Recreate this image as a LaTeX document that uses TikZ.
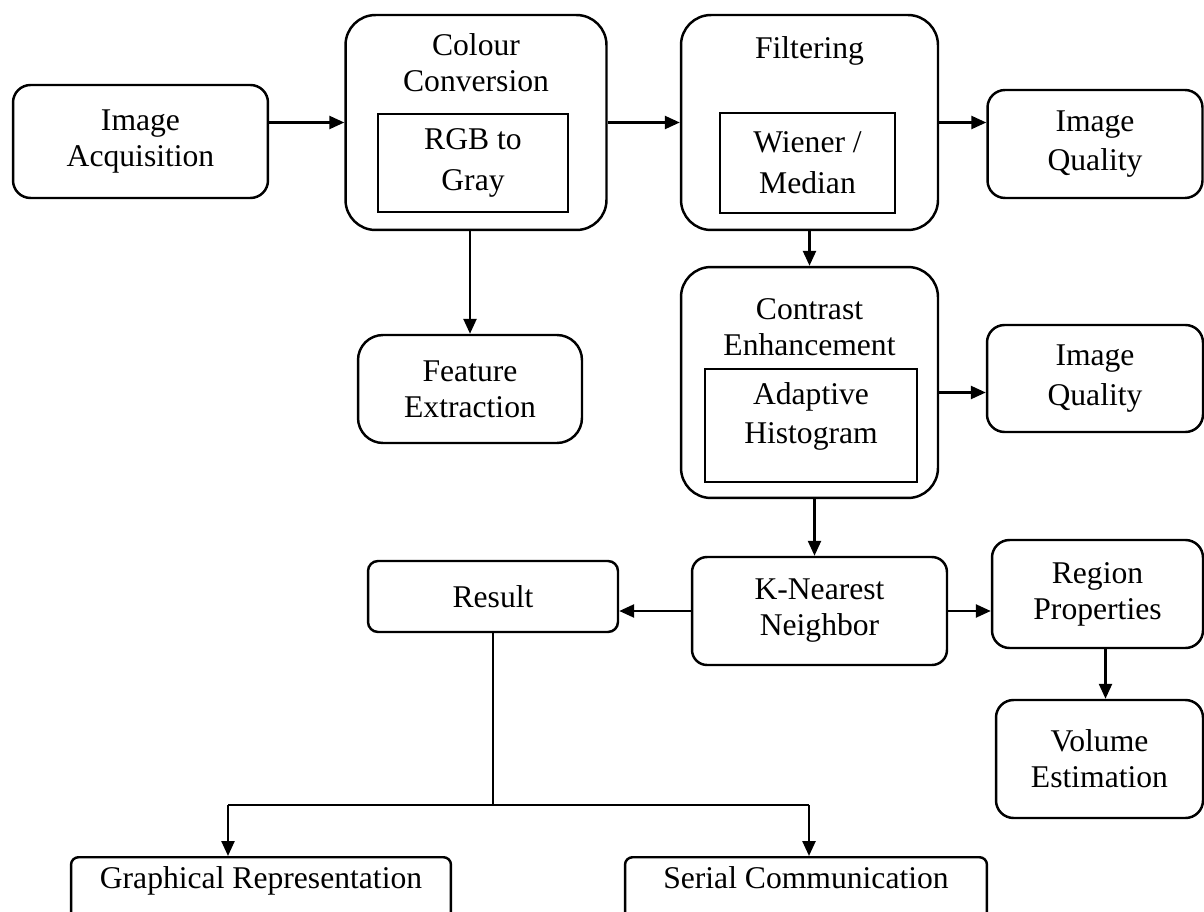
\documentclass[tikz,border=0pt]{standalone}
\usepackage{fontspec}
\setmainfont{Liberation Serif}
\usetikzlibrary{
    positioning,
    arrows.meta
}

\begin{document}
\begin{tikzpicture}[
    x=0.02cm, y=-0.02cm,
    font=\fontsize{18}{20.5}\selectfont,
    box/.style={rectangle, draw, line width=1.4pt, rounded corners=0.35cm, align=center, inner sep=0pt},
    big/.style={box, rounded corners=0.6cm},
    sub/.style={rectangle, draw, line width=1.4pt, align=center, inner sep=0pt},
    ttl/.style={align=center, inner sep=0pt},
    low/.style={box, rounded corners=0.15cm, anchor=north, inner ysep=0.17cm, text height=0.45cm, text depth=1.2cm},
    arr/.style={line width=1.4pt, -{Triangle[length=0.3cm, width=0.26cm]}},
    lin/.style={line width=1.4pt},
]
\useasboundingbox (0,0) rectangle (1204,912);

% top row
\node[box, minimum width=5.1cm, minimum height=2.26cm] (acq) at (140.5,141.5) {Image\\Acquisition};
\node[big, minimum width=5.22cm, minimum height=4.3cm] (cc) at (476,122.5) {};
\node[ttl] (cct) at (476,63) {Colour\\Conversion};
\node[sub, minimum width=3.8cm, minimum height=1.96cm] (ccin) at (473,163) {RGB to\\[3pt]Gray};
\node[big, minimum width=5.14cm, minimum height=4.3cm] (filt) at (809.5,122.5) {};
\node[ttl] (filtt) at (809.5,51) {Filtering};
\node[sub, minimum width=3.5cm, minimum height=2cm] (filtin) at (807.5,163) {Wiener /\\[3pt]Median};
\node[box, minimum width=4.3cm, minimum height=2.16cm] (iq1) at (1095,144) {Image\\[2pt]Quality};

% middle
\node[box, rounded corners=0.5cm, minimum width=4.48cm, minimum height=2.16cm] (feat) at (470,389) {Feature\\Extraction};
\node[big, minimum width=5.14cm, minimum height=4.62cm] (ce) at (809.5,382.5) {};
\node[ttl] (cet) at (809.5,327) {Contrast\\Enhancement};
\node[sub, minimum width=4.24cm, minimum height=2.26cm, text depth=0.5cm] (cein) at (811,425.5) {Adaptive\\[2pt]Histogram};
\node[box, minimum width=4.32cm, minimum height=2.14cm] (iq2) at (1095,378.5) {Image\\[2pt]Quality};

% lower
\node[box, rounded corners=0.3cm, minimum width=5.1cm, minimum height=2.16cm] (knn) at (819.5,611) {K-Nearest\\Neighbor};
\node[box, rounded corners=0.2cm, minimum width=5cm, minimum height=1.42cm] (res) at (493,596.5) {Result};
\node[box, minimum width=4.22cm, minimum height=2.16cm] (reg) at (1097.5,594) {Region\\Properties};
\node[box, minimum width=4.14cm, minimum height=2.36cm] (vol) at (1099.5,759) {Volume\\Estimation};
\node[low, minimum width=7.6cm] (gr) at (261,856) {Graphical Representation};
\node[low, minimum width=7.24cm] (sc) at (806,856) {Serial Communication};

% arrows
\draw[arr] (acq.east |- cc.west) -- (cc.west);
\draw[arr] (cc.east) -- (filt.west);
\draw[arr] (filt.east) -- (filt.east -| iq1.west);
\draw[arr] (cc.south -| feat.north) -- (feat.north);
\draw[arr] (filt.south) -- (ce.north);
\draw[arr] ([yshift=-0.2cm]ce.east) -- ([yshift=-0.2cm]ce.east -| iq2.west);
\draw[arr] ([xshift=0.1cm]ce.south) -- ([xshift=0.1cm]ce.south |- knn.north);
\draw[arr] (knn.west) -- (knn.west -| res.east);
\draw[arr] (knn.east) -- (knn.east -| reg.west);
\draw[arr] ([xshift=0.16cm]reg.south) -- ([xshift=0.16cm]reg.south |- vol.north);

% branch to outputs
\coordinate (lvl) at (0,805);
\coordinate (gl) at (228,805);
\coordinate (sr) at (809,805);
\draw[lin] (res.south) -- (res.south |- lvl);
\draw[lin] (gl) -- (sr);
\draw[arr] (gl) -- (gl |- gr.north);
\draw[arr] (sr) -- (sr |- sc.north);
\end{tikzpicture}
\end{document}
